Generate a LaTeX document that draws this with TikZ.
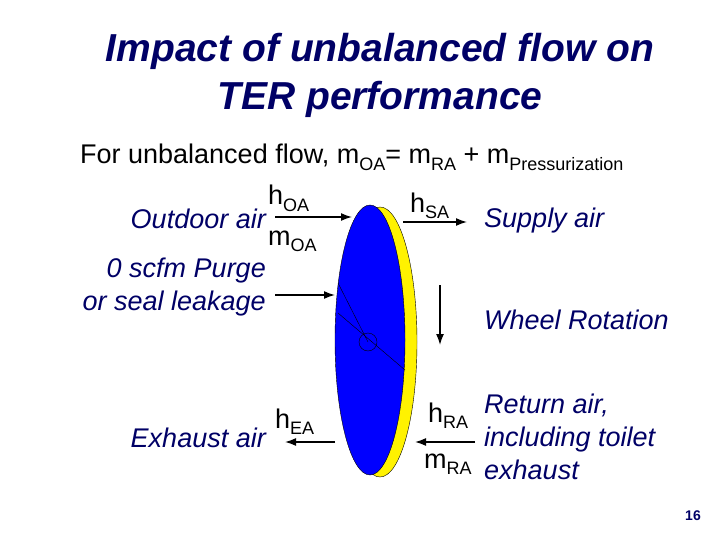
\documentclass[tikz,border=0pt]{standalone}
\usepackage{fontspec}
\setmainfont{Liberation Sans}
\usetikzlibrary{arrows.meta}
\newcommand{\sbs}[1]{\raisebox{-0.25em}{\fontsize{18}{20}\selectfont #1}}
\begin{document}
\begin{tikzpicture}[x=1pt,y=-1pt,
  lbl/.style={font=\fontsize{27}{33}\selectfont\itshape,text=navyc,align=right},
  hm/.style={font=\fontsize{27}{33}\selectfont,inner sep=0pt},
  arr/.style={-{Latex[length=11pt,width=8pt]},line width=1.5pt}]
\definecolor{navyc}{RGB}{0,0,102}
\useasboundingbox (0,0) rectangle (720,540);
\node[font=\fontsize{39}{48}\selectfont\bfseries\itshape,text=navyc,align=center] (title) at (380,75) {Impact of unbalanced flow on\\TER performance};
\node[font=\fontsize{27}{32}\selectfont,anchor=west,inner sep=0pt] (eq) at (80,157) {For unbalanced flow, m\sbs{OA}= m\sbs{RA} + m\sbs{Pressurization}};
\draw[fill=yellow,draw=black] (380,342) ellipse (37 and 135);
\draw[fill=blue,draw=black] (370,340) ellipse (35 and 135);
\node[circle,draw,minimum size=18,inner sep=0] (hub) at (368,342) {};
\draw (338,283) -- (hub.center);
\draw (338,313) -- (405,370);
\coordinate (oa1) at (275,217); \coordinate (oa2) at (352,217);
\draw[arr] (oa1) -- (oa2);
\coordinate (sa1) at (403,222); \coordinate (sa2) at (467,222);
\draw[arr] (sa1) -- (sa2);
\coordinate (p1) at (275,295); \coordinate (p2) at (335,295);
\draw[arr] (p1) -- (p2);
\coordinate (w1) at (440,285); \coordinate (w2) at (440,345);
\draw[arr] (w1) -- (w2);
\coordinate (e1) at (335,442); \coordinate (e2) at (285,442);
\draw[arr] (e1) -- (e2);
\coordinate (r1) at (475,442); \coordinate (r2) at (415,442);
\draw[arr] (r1) -- (r2);
\node[hm,anchor=base west] (hoa) at (268,205) {h\sbs{OA}};
\node[hm,anchor=base west] (moa) at (268,245) {m\sbs{OA}};
\node[hm,anchor=base west] (hsa) at (410,212) {h\sbs{SA}};
\node[hm,anchor=base west] (hea) at (275,428) {h\sbs{EA}};
\node[hm,anchor=base west] (hra) at (428,422) {h\sbs{RA}};
\node[hm,anchor=base west] (mra) at (424,468) {m\sbs{RA}};
\node[lbl,anchor=base east,inner sep=0] (oa) at (266,229) {Outdoor air};
\node[lbl,anchor=east,inner sep=0] (pg) at (266,287) {0 scfm Purge\\or seal leakage};
\node[lbl,anchor=base east,inner sep=0] (ea) at (266,447) {Exhaust air};
\node[lbl,anchor=base west,inner sep=0] (sa) at (484,228) {Supply air};
\node[lbl,anchor=base west,inner sep=0] (wr) at (484,329) {Wheel Rotation};
\node[lbl,anchor=west,inner sep=0,align=left] (ra) at (484,437) {Return air,\\including toilet\\exhaust};
\node[font=\fontsize{14}{16}\selectfont\bfseries,text=navyc] (pn) at (693,516) {16};
\end{tikzpicture}
\end{document}
